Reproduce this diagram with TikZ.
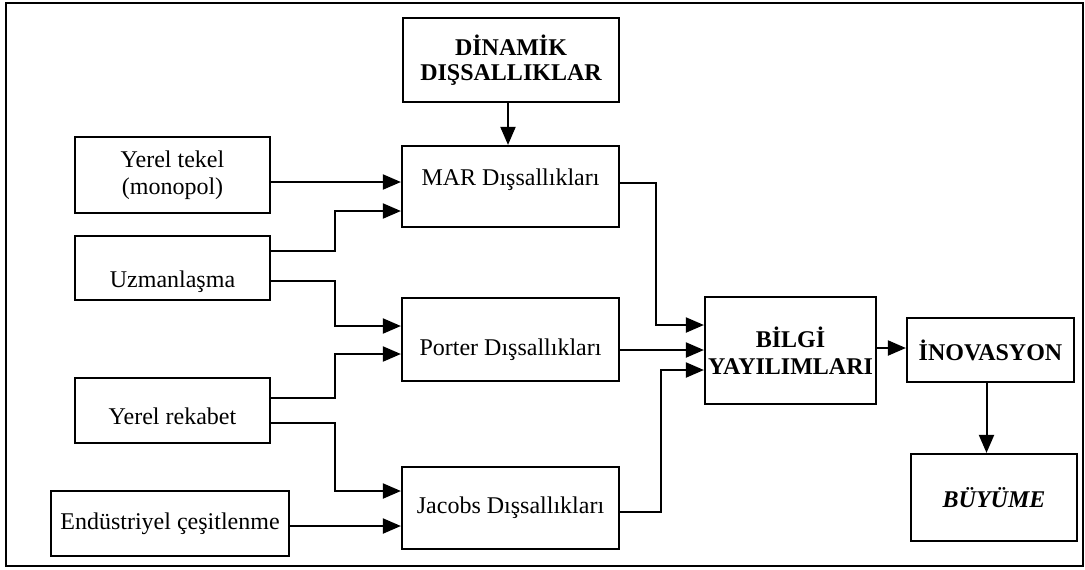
\documentclass[tikz,border=0pt]{standalone}
\usepackage{fontspec}
\setmainfont{Liberation Serif}
\usetikzlibrary{arrows.meta}

\begin{document}
\begin{tikzpicture}[
        x=0.5pt, y=-0.5pt,
        every node/.style={font=\fontsize{12}{13.5}\selectfont},
        box/.style={draw, line width=1.1pt, align=center, inner sep=2pt},
        lift/.style={text height=8.5pt, text depth=#1},
        sink/.style={text depth=2.5pt, text height=#1},
        link/.style={line width=1pt, -{Triangle[length=9pt,width=7.5pt]}}
    ]
    \useasboundingbox (0,0) rectangle (1085,569);
    \draw[line width=1.1pt] (6,3) rectangle (1083,566);

    % left column
    \node[box, minimum width=97.5pt, minimum height=38pt] (tekel) at (172.5,175) {Yerel tekel\\(monopol)};
    \node[box, minimum width=97.5pt, minimum height=32pt, sink=21.5pt] (uzman) at (172.5,268) {Uzmanlaşma};
    \node[box, minimum width=97.5pt, minimum height=32.5pt, sink=16pt] (rekabet) at (172.5,410.5) {Yerel rekabet};
    \node[box, minimum width=119pt, minimum height=32.5pt] (endus) at (170,523.5) {Endüstriyel çeşitlenme};

    % middle column
    \node[box, minimum width=108pt, minimum height=42pt, font=\fontsize{12}{12.5}\selectfont\bfseries] (dyn) at (511,60) {DİNAMİK\\DIŞSALLIKLAR};
    \node[box, minimum width=108.5pt, minimum height=40.5pt, lift=10pt] (mar) at (510.5,186.5) {MAR Dışsallıkları};
    \node[box, minimum width=108.5pt, minimum height=41.5pt, sink=18pt] (porter) at (510.5,339.5) {Porter Dışsallıkları};
    \node[box, minimum width=108.5pt, minimum height=41pt] (jacobs) at (510.5,508) {Jacobs Dışsallıkları};

    % right side
    \node[box, inner xsep=0pt, minimum width=85.5pt, minimum height=53.5pt, font=\fontsize{12}{13.5}\selectfont\bfseries] (bilgi) at (790.5,350.5) {BİLGİ\\YAYILIMLARI};
    \node[box, minimum width=83.5pt, minimum height=32pt, font=\fontsize{12}{13.5}\selectfont\bfseries] (inov) at (990.5,350) {İNOVASYON};
    \node[box, minimum width=83pt, minimum height=43.5pt, font=\fontsize{12}{13.5}\selectfont\bfseries\itshape] (buyume) at (994,497.5) {BÜYÜME};

    \coordinate (jl) at (335,0);
    \coordinate (jm) at (656,0);
    \coordinate (jj) at (661,0);

    \draw[link] ([xshift=-1.5pt]dyn.south) -- ([xshift=-1.5pt]dyn.south |- mar.north);
    \draw[link] ([yshift=-3.5pt]tekel.east) -- ([yshift=-3.5pt]tekel.east -| mar.west);
    \draw[link] ([yshift=8.5pt]uzman.east) -- ([yshift=8.5pt]uzman.east -| jl) |- ([yshift=-12.25pt]mar.west);
    \draw[link] ([yshift=-6.5pt]uzman.east) -- ([yshift=-6.5pt]uzman.east -| jl) |- ([yshift=6.75pt]porter.west);
    \draw[link] ([yshift=6.25pt]rekabet.east) -- ([yshift=6.25pt]rekabet.east -| jl) |- ([yshift=-7.25pt]porter.west);
    \draw[link] ([yshift=-6.25pt]rekabet.east) -- ([yshift=-6.25pt]rekabet.east -| jl) |- ([yshift=8.5pt]jacobs.west);
    \draw[link] ([yshift=-9pt]jacobs.west -| endus.east) -- ([yshift=-9pt]jacobs.west);

    \draw[link] ([yshift=1.75pt]mar.east) -- ([yshift=1.75pt]mar.east -| jm) |- ([yshift=12.75pt]bilgi.west);
    \draw[link] ([yshift=0.25pt]bilgi.west -| porter.east) -- ([yshift=0.25pt]bilgi.west);
    \draw[link] ([yshift=-2pt]jacobs.east) -- ([yshift=-2pt]jacobs.east -| jj) |- ([yshift=-9.75pt]bilgi.west);
    \draw[link] ([yshift=1.25pt]bilgi.east) -- ([yshift=1.25pt]bilgi.east -| inov.west);
    \draw[link] ([xshift=-2pt]inov.south) -- ([xshift=-2pt]inov.south |- buyume.north);
\end{tikzpicture}
\end{document}
